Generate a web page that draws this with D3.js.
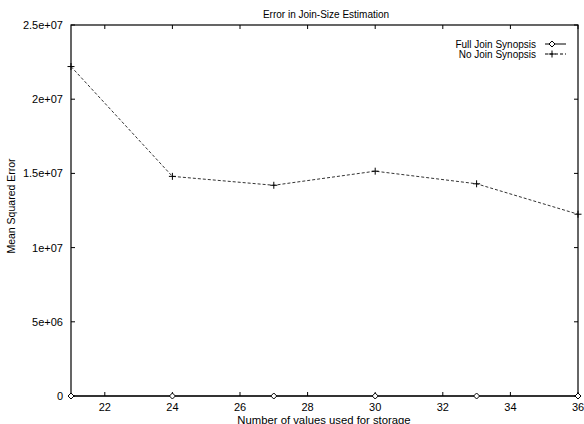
<!DOCTYPE html>
<html>
<head>
<meta charset="utf-8">
<script src="https://cdn.jsdelivr.net/npm/d3@7"></script>
<style>
  body { margin: 0; background: #fff; }
  text { font-family: "Liberation Sans", Arial, sans-serif; fill: #000; }
</style>
</head>
<body>
<div id="chart"></div>
<script>
const storage = [21, 24, 27, 30, 33, 36]
const fullJoin = [0, 0, 0, 0, 0, 0]
const noJoin = [2.22e7, 1.48e7, 1.42e7, 1.515e7, 1.43e7, 1.225e7]
const xTicks = [22, 24, 26, 28, 30, 32, 34, 36]
const yTicks = [0, 5e6, 1e7, 1.5e7, 2e7, 2.5e7]
const yTickLabels = ['0', '5e+06', '1e+07', '1.5e+07', '2e+07', '2.5e+07']

let width = 584
let height = 424
let margin = { top: 25, left: 71, right: 6, bottom: 28 }

let svg = d3.select('#chart')
  .append('svg')
  .attr('width', width)
  .attr('height', height)

let x = d3.scaleLinear()
  .domain([21, 36])
  .range([margin.left, width - margin.right])

let y = d3.scaleLinear()
  .domain([0, 2.5e7])
  .range([height - margin.bottom, margin.top])

let tick = 4

// frame
svg.append('rect')
  .attr('x', x(21))
  .attr('y', y(2.5e7))
  .attr('width', x(36) - x(21))
  .attr('height', y(0) - y(2.5e7))
  .attr('fill', 'none')
  .attr('stroke', '#000')
  .attr('stroke-width', 1.2)

// x ticks, bottom and mirrored at top
xTicks.forEach(t => {
  svg.append('line')
    .attr('x1', x(t)).attr('x2', x(t))
    .attr('y1', y(0)).attr('y2', y(0) - tick)
    .attr('stroke', '#000')
  svg.append('line')
    .attr('x1', x(t)).attr('x2', x(t))
    .attr('y1', y(2.5e7)).attr('y2', y(2.5e7) + tick)
    .attr('stroke', '#000')
  svg.append('text')
    .attr('x', x(t))
    .attr('y', y(0) + 15)
    .attr('text-anchor', 'middle')
    .attr('font-size', 11)
    .text(t)
})

// y ticks, left and mirrored at right
yTicks.forEach((t, i) => {
  svg.append('line')
    .attr('x1', x(21)).attr('x2', x(21) + tick)
    .attr('y1', y(t)).attr('y2', y(t))
    .attr('stroke', '#000')
  svg.append('line')
    .attr('x1', x(36)).attr('x2', x(36) - tick)
    .attr('y1', y(t)).attr('y2', y(t))
    .attr('stroke', '#000')
  svg.append('text')
    .attr('x', x(21) - 8)
    .attr('y', y(t) + 4)
    .attr('text-anchor', 'end')
    .attr('font-size', 11)
    .text(yTickLabels[i])
})

// titles
svg.append('text')
  .attr('x', 326)
  .attr('y', 18)
  .attr('text-anchor', 'middle')
  .attr('font-size', 10)
  .text('Error in Join-Size Estimation')

svg.append('text')
  .attr('x', 324)
  .attr('y', 423.5)
  .attr('text-anchor', 'middle')
  .attr('font-size', 11.3)
  .text('Number of values used for storage')

svg.append('text')
  .attr('transform', 'translate(15, 206)rotate(-90)')
  .attr('text-anchor', 'middle')
  .attr('font-size', 10.5)
  .text('Mean Squared Error')

let line = d3.line()
  .x((d, i) => x(storage[i]))
  .y(d => y(d))

// full join synopsis: solid with diamonds
svg.append('path')
  .datum(fullJoin)
  .attr('d', line)
  .attr('fill', 'none')
  .attr('stroke', '#000')
  .attr('stroke-width', 1)

let diamond = (cx, cy) => `M${cx},${cy - 3}L${cx + 3},${cy}L${cx},${cy + 3}L${cx - 3},${cy}Z`

svg.selectAll('.full-pt')
  .data(fullJoin)
  .enter()
  .append('path')
  .attr('class', 'full-pt')
  .attr('d', (d, i) => diamond(x(storage[i]), y(d)))
  .attr('fill', '#fff')
  .attr('stroke', '#000')
  .attr('stroke-width', 1)

// no join synopsis: dashed with plus
svg.append('path')
  .datum(noJoin)
  .attr('d', line)
  .attr('fill', 'none')
  .attr('stroke', '#333')
  .attr('stroke-width', 1)
  .attr('stroke-dasharray', '3,2')

let plus = (cx, cy) => `M${cx - 3.5},${cy}H${cx + 3.5}M${cx},${cy - 3.5}V${cy + 3.5}`

svg.selectAll('.no-pt')
  .data(noJoin)
  .enter()
  .append('path')
  .attr('class', 'no-pt')
  .attr('d', (d, i) => plus(x(storage[i]), y(d)))
  .attr('stroke', '#000')
  .attr('stroke-width', 1)

// legend
let legend = [
  { name: 'Full Join Synopsis', dash: null, mark: diamond },
  { name: 'No Join Synopsis', dash: '3,2', mark: plus }
]

legend.forEach((d, i) => {
  let ly = 44 + i * 10
  svg.append('text')
    .attr('x', 536)
    .attr('y', ly + 3.5)
    .attr('text-anchor', 'end')
    .attr('font-size', 10)
    .text(d.name)
  svg.append('line')
    .attr('x1', 545).attr('x2', 566)
    .attr('y1', ly).attr('y2', ly)
    .attr('stroke', '#000')
    .attr('stroke-dasharray', d.dash)
  svg.append('path')
    .attr('d', d.mark(552, ly))
    .attr('fill', '#fff')
    .attr('stroke', '#000')
})
</script>
</body>
</html>
